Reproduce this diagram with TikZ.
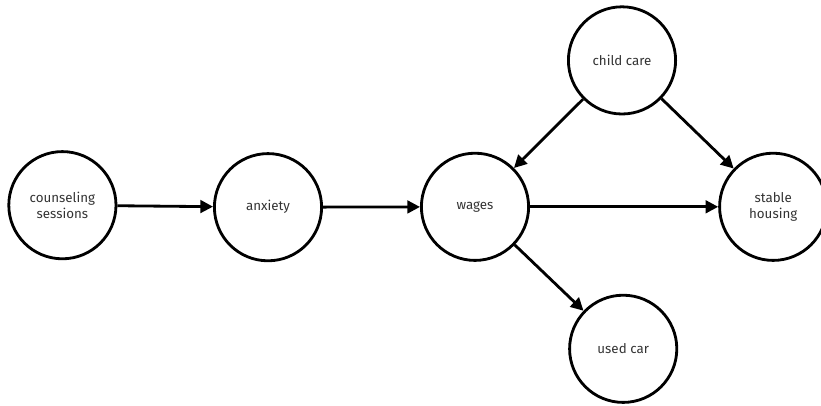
\documentclass[tikz,border=0pt]{standalone}
\usepackage{fontspec}
\setmainfont{Fira Sans}
\usetikzlibrary{positioning,arrows.meta}
\tikzset{
  causal/.style={-{Triangle[length=9pt, width=9pt]}, line width=2pt},
  var/.style={draw, circle, line width=2pt, minimum size=2.68cm, inner sep=1pt, align=center, text=black!80, font=\fontsize{9.5}{11.5}\selectfont}
}
\begin{document}
\begin{tikzpicture}
  \useasboundingbox (0,0) rectangle (20.525,-10.125);
  \node[var] (counsel) at (1.56,-5.13) {counseling\\sessions};
  \node[var] (anx) at (6.70,-5.18) {anxiety};
  \node[var] (wage) at (11.875,-5.17) {wages};
  \node[var] (care) at (15.55,-1.51) {child care};
  \node[var] (house) at (19.33,-5.17) {stable\\housing};
  \node[var] (car) at (15.58,-8.72) {used car};
  \draw[causal] (counsel) -- (anx);
  \draw[causal] (anx) -- (wage);
  \draw[causal] (wage) -- (house);
  \draw[causal] (care) -- (wage);
  \draw[causal] (care) -- (house);
  \draw[causal] (wage) -- (car);
\end{tikzpicture}
\end{document}
